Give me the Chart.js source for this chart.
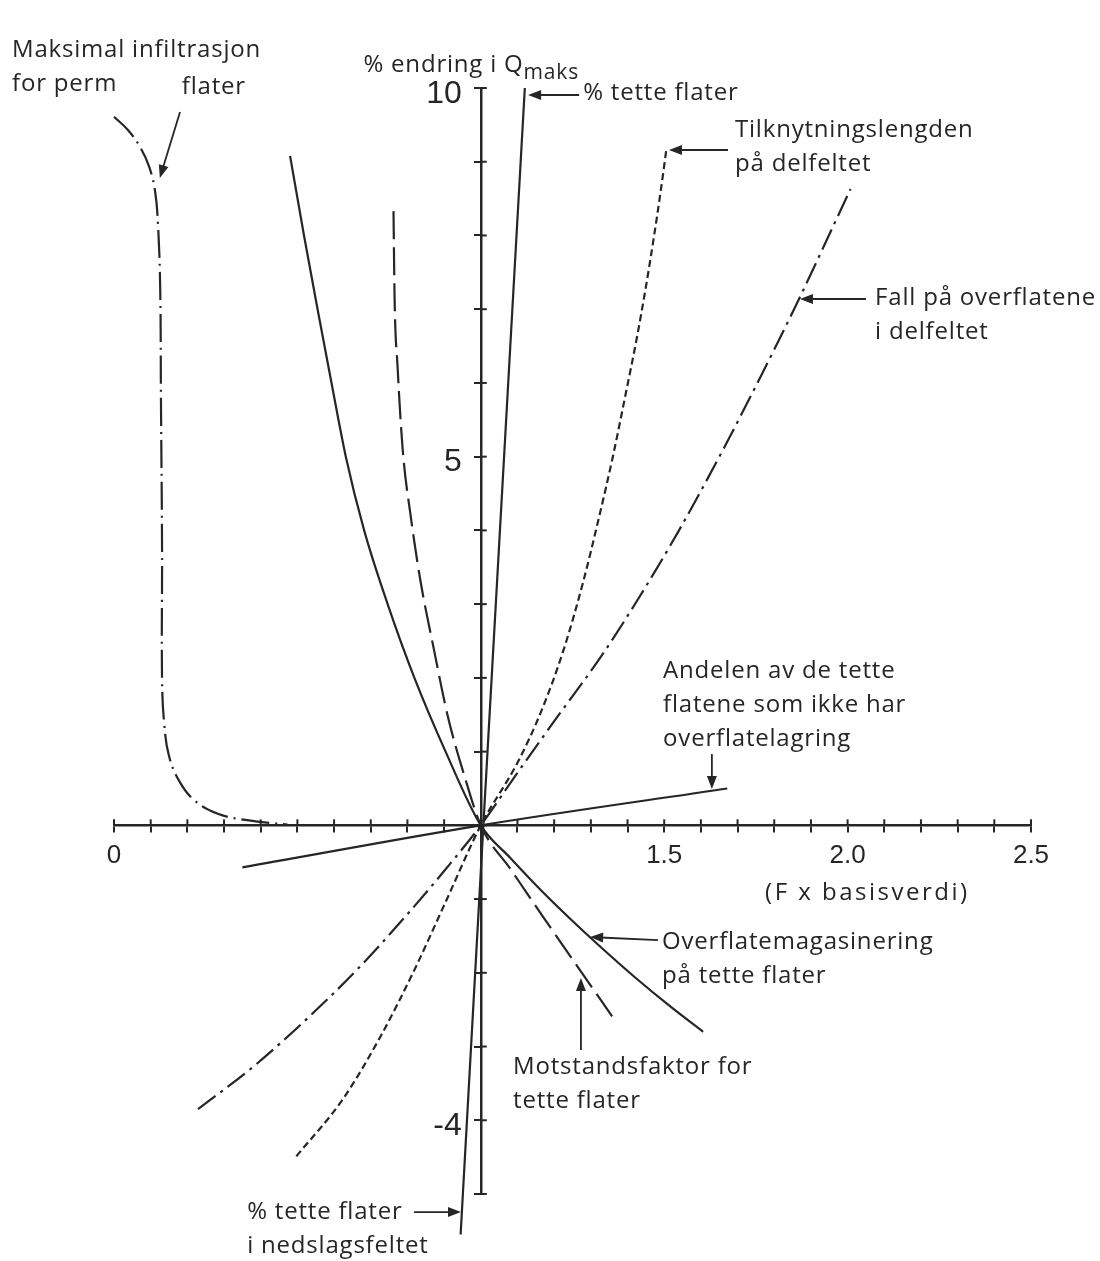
<!DOCTYPE html>
<html>
<head>
<meta charset="utf-8">
<script src="https://cdn.jsdelivr.net/npm/chart.js@4.4.1/dist/chart.umd.min.js"></script>
<style>
  html, body { margin: 0; padding: 0; background: #fff; }
  #wrap { width: 1100px; height: 1261px; position: relative; }
</style>
</head>
<body>
<div id="wrap"><canvas id="myChart"></canvas></div>
<script>
// tick labels (only a few ticks carry numbers in the print)
const xLabelValues = [0, 1.5, 2.0, 2.5];
const xLabelTexts = ["0", "1.5", "2.0", "2.5"];
const yLabelValues = [10, 5, -4];

// series as [F x basisverdi, % endring]
const pctTette = [[0.945, -5.55], [1.007, 0], [1.120, 10.0]];
const tilknytning = [[0.497, -4.49], [0.623, -3.72], [0.727, -2.86], [0.820, -1.95], [0.904, -1.04],
  [1.0, 0], [1.100, 0.85], [1.165, 1.55], [1.227, 2.40], [1.279, 3.30], [1.321, 4.15], [1.360, 5.0],
  [1.397, 5.9], [1.425, 6.6], [1.450, 7.3], [1.471, 7.95], [1.489, 8.55], [1.506, 9.17]];
const fall = [[0.229, -3.85], [0.383, -3.26], [0.516, -2.67], [0.664, -1.95], [0.801, -1.20],
  [0.90, -0.62], [1.0, 0], [1.101, 0.72], [1.210, 1.48], [1.328, 2.29], [1.429, 3.07], [1.538, 3.98],
  [1.661, 5.10], [1.749, 5.95], [1.858, 7.04], [2.008, 8.63]];
const andelen = [[0.35, -0.57], [1.0, 0], [1.672, 0.5]];
const magasin = [[0.480, 9.08], [0.518, 8.0], [0.555, 7.0], [0.593, 6.0], [0.632, 5.0],
  [0.682, 4.0], [0.746, 3.0], [0.819, 2.0], [0.904, 1.0], [1.0, 0],
  [1.08, -0.44], [1.16, -0.86], [1.24, -1.25], [1.32, -1.62], [1.42, -2.06], [1.52, -2.47], [1.606, -2.80]];
const motstand = [[0.762, 8.33], [0.765, 7.14], [0.773, 6.23], [0.787, 5.10], [0.809, 4.19],
  [0.836, 3.30], [0.872, 2.39], [0.910, 1.48], [0.956, 0.66], [1.0, 0], [1.082, -0.60],
  [1.167, -1.22], [1.249, -1.81], [1.358, -2.59]];
const infiltrasjon = [[0.000, 9.61], [0.038, 9.43], [0.071, 9.20], [0.096, 8.93], [0.112, 8.60],
  [0.120, 8.15], [0.126, 7.27], [0.128, 5.78], [0.131, 3.74], [0.131, 1.98], [0.137, 1.37],
  [0.150, 0.94], [0.178, 0.60], [0.219, 0.34], [0.281, 0.16], [0.363, 0.07], [0.473, 0.01]];

const ink = "#262626";
const fontFamily = '"Open Sans", "Noto Sans", sans-serif';

// text notes and arrows, placed in data units
const notes = [
  { lines: ["Maksimal infiltrasjon", "for perm"], x: -0.278, y: 10.515 },
  { lines: ["flater"], x: 0.185, y: 10.014 },
  { lines: ["% tette flater"], x: 1.279, y: 9.932 },
  { lines: ["Tilknytningslengden", "på delfeltet"], x: 1.693, y: 9.43 },
  { lines: ["Fall på overflatene", "i delfeltet"], x: 2.075, y: 7.152 },
  { lines: ["Andelen av de tette", "flatene som ikke har", "overflatelagring"], x: 1.497, y: 2.093 },
  { lines: ["(F x basisverdi)"], x: 1.775, y: -0.918, spacing: 2.5 },
  { lines: ["Overflatemagasinering", "på tette flater"], x: 1.494, y: -1.583 },
  { lines: ["Motstandsfaktor for", "tette flater"], x: 1.088, y: -3.278 },
  { lines: ["% tette flater", "i nedslagsfeltet"], x: 0.363, y: -5.245 }
];
const arrows = [
  [0.180, 9.674, 0.125, 8.779],
  [1.268, 9.905, 1.129, 9.905],
  [1.674, 9.159, 1.513, 9.159],
  [2.050, 7.138, 1.870, 7.138],
  [1.630, 0.967, 1.630, 0.492],
  [1.483, -1.556, 1.298, -1.515],
  [1.273, -3.048, 1.273, -2.071],
  [0.818, -5.245, 0.946, -5.245]
];

function toPoints(arr) {
  return arr.map(p => ({ x: p[0], y: p[1] }));
}

function series(arr, dash) {
  return {
    data: toPoints(arr),
    showLine: true,
    borderColor: ink,
    borderWidth: 2.2,
    borderDash: dash,
    pointRadius: 0,
    cubicInterpolationMode: "monotone",
    fill: false,
    clip: false
  };
}

function drawArrow(ctx, x1, y1, x2, y2) {
  const a = Math.atan2(y2 - y1, x2 - x1);
  const len = 13, half = 5;
  ctx.beginPath();
  ctx.moveTo(x1, y1);
  ctx.lineTo(x2 - Math.cos(a) * len * 0.8, y2 - Math.sin(a) * len * 0.8);
  ctx.stroke();
  ctx.beginPath();
  ctx.moveTo(x2, y2);
  ctx.lineTo(x2 - Math.cos(a) * len - Math.sin(a) * half, y2 - Math.sin(a) * len + Math.cos(a) * half);
  ctx.lineTo(x2 - Math.cos(a) * len + Math.sin(a) * half, y2 - Math.sin(a) * len - Math.cos(a) * half);
  ctx.closePath();
  ctx.fill();
}

const notesPlugin = {
  id: "notes",
  afterDraw(chart) {
    const { ctx } = chart;
    const xs = chart.scales.x, ys = chart.scales.y;
    ctx.save();
    ctx.strokeStyle = ink;
    ctx.fillStyle = ink;
    ctx.lineWidth = 2;

    // the print has tick marks crossing the axes, chart.js only draws one side
    const y0 = ys.getPixelForValue(0);
    xs.ticks.forEach(t => {
      const px = xs.getPixelForValue(t.value);
      ctx.beginPath(); ctx.moveTo(px, y0); ctx.lineTo(px, y0 - 6); ctx.stroke();
    });
    const x0 = xs.getPixelForValue(1);
    ys.ticks.forEach(t => {
      const py = ys.getPixelForValue(t.value);
      ctx.beginPath(); ctx.moveTo(x0, py); ctx.lineTo(x0 + 6, py); ctx.stroke();
    });

    // y tick numbers, left of the centred axis
    ctx.font = '32px "Liberation Sans", sans-serif';
    ctx.textAlign = "right";
    ctx.textBaseline = "middle";
    yLabelValues.forEach(v => ctx.fillText(String(v), x0 - 19, ys.getPixelForValue(v) + 6));

    // y axis title with subscript
    ctx.textAlign = "left";
    ctx.font = "24px " + fontFamily;
    ctx.letterSpacing = "0.8px";
    const tx = xs.getPixelForValue(0.68), ty = ys.getPixelForValue(10.31);
    ctx.fillText("% endring i Q", tx, ty);
    const w = ctx.measureText("% endring i Q").width;
    ctx.font = "21px " + fontFamily;
    ctx.fillText("maks", tx + w, ty + 8);

    ctx.font = "24px " + fontFamily;
    notes.forEach(n => {
      ctx.letterSpacing = (n.spacing || 0.8) + "px";
      const px = xs.getPixelForValue(n.x), py = ys.getPixelForValue(n.y);
      n.lines.forEach((line, i) => ctx.fillText(line, px, py + i * 34));
    });

    ctx.lineWidth = 1.8;
    arrows.forEach(a => {
      drawArrow(ctx, xs.getPixelForValue(a[0]), ys.getPixelForValue(a[1]),
        xs.getPixelForValue(a[2]), ys.getPixelForValue(a[3]));
    });
    ctx.restore();
  }
};

let ctx = document.querySelector("#myChart").getContext("2d");

const infiltrasjonLine = series(infiltrasjon, [28, 6, 2, 6]);
// this one turns a corner, so a plain bezier follows it better than monotone
infiltrasjonLine.cubicInterpolationMode = "default";
infiltrasjonLine.tension = 0.4;

const myChart = new Chart(ctx, {
  type: "scatter",
  data: {
    datasets: [
      series(pctTette, []),
      series(tilknytning, [7, 4]),
      series(fall, [22, 6, 3, 6]),
      series(andelen, []),
      series(magasin, []),
      series(motstand, [28, 8]),
      infiltrasjonLine
    ]
  },
  options: {
    responsive: true,
    maintainAspectRatio: false,
    animation: false,
    layout: { padding: { left: 114, right: 69, top: 88, bottom: 67 } },
    plugins: { legend: { display: false }, tooltip: { enabled: false } },
    scales: {
      x: {
        type: "linear",
        min: 0,
        max: 2.5,
        position: { y: 0 },
        border: { color: ink, width: 2.5 },
        grid: { drawOnChartArea: false, color: ink, lineWidth: 2, tickLength: 6 },
        ticks: {
          stepSize: 0.1,
          autoSkip: false,
          maxRotation: 0,
          padding: 9,
          color: ink,
          font: { family: '"Liberation Sans", sans-serif', size: 26 },
          callback: v => {
            const i = xLabelValues.findIndex(t => Math.abs(t - v) < 1e-6);
            return i < 0 ? "" : xLabelTexts[i];
          }
        }
      },
      y: {
        type: "linear",
        min: -5,
        max: 10,
        position: { x: 1 },
        border: { color: ink, width: 2.5 },
        grid: { drawOnChartArea: false, color: ink, lineWidth: 2, tickLength: 6 },
        ticks: { stepSize: 1, autoSkip: false, display: false }
      }
    }
  },
  plugins: [notesPlugin]
});
</script>
</body>
</html>
